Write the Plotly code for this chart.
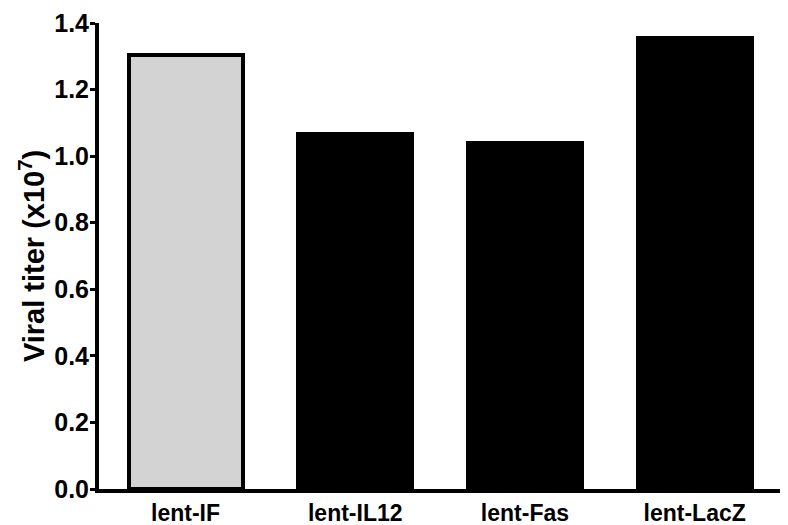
import plotly.graph_objects as go

categories = ["lent-IF", "lent-IL12", "lent-Fas", "lent-LacZ"]
titer_values = [1.305, 1.068, 1.039, 1.355]
bar_colors = ["#d3d3d3", "#000000", "#000000", "#000000"]
y_ticks = [0.0, 0.2, 0.4, 0.6, 0.8, 1.0, 1.2, 1.4]
y_tick_labels = ["0.0", "0.2", "0.4", "0.6", "0.8", "1.0", "1.2", "1.4"]

fig = go.Figure(
    go.Bar(
        x=categories,
        y=titer_values,
        width=0.672,
        marker=dict(color=bar_colors, line=dict(color="#000000", width=4)),
    )
)

font_family = "Liberation Sans, Arial, sans-serif"
fig.update_layout(
    width=780,
    height=517,
    margin=dict(l=91, r=0, t=15, b=36),
    paper_bgcolor="white",
    plot_bgcolor="white",
    showlegend=False,
    font=dict(family=font_family, color="#000000"),
    bargap=0,
)
fig.update_xaxes(
    range=[-0.51, 3.55],
    showline=True,
    linecolor="#000000",
    linewidth=4,
    ticks="",
    showgrid=False,
    zeroline=False,
    automargin=False,
    tickfont=dict(family=font_family, size=23, color="#000000", weight="bold"),
)
fig.update_yaxes(
    range=[0, 1.4],
    tickvals=y_ticks,
    ticktext=y_tick_labels,
    showline=True,
    linecolor="#000000",
    linewidth=4,
    ticks="outside",
    ticklen=5,
    tickwidth=3,
    tickcolor="#000000",
    ticklabeloverflow="allow",
    ticklabelstandoff=-4,
    showgrid=False,
    zeroline=False,
    automargin=False,
    tickfont=dict(family=font_family, size=25, color="#000000", weight="bold"),
    title=dict(
        text="Viral titer (x10<sup>7</sup>)",
        font=dict(family=font_family, size=29, color="#000000", weight="bold"),
        standoff=2,
    ),
)

fig.write_html("out.html")
